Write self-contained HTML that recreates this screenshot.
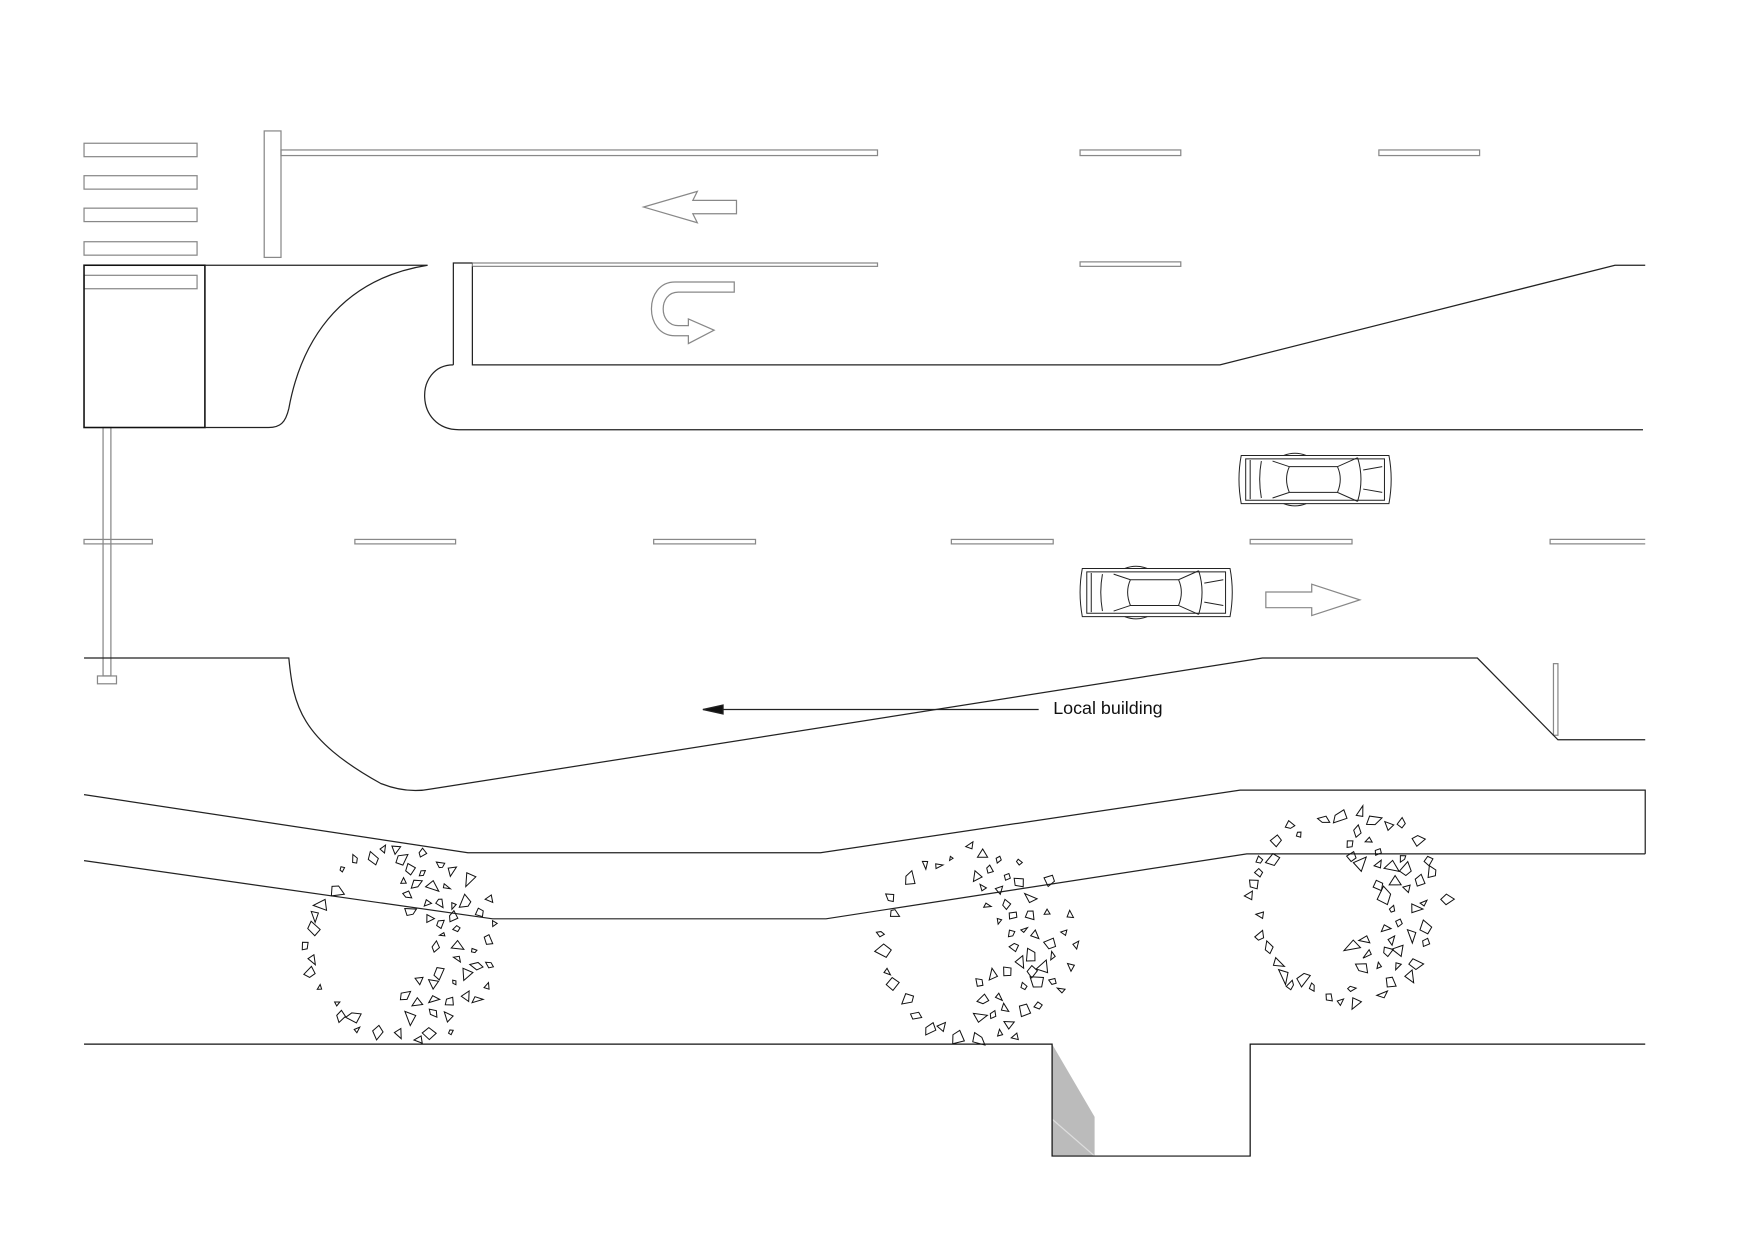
<!DOCTYPE html>
<html><head><meta charset="utf-8"><style>
html,body{margin:0;padding:0;background:#fff;}
svg{display:block;}
</style></head><body>
<svg id="s" width="1755" height="1240" viewBox="0 0 1568 1108" xmlns="http://www.w3.org/2000/svg" fill="none" stroke="#222" stroke-width="1.1">
<g stroke="#888">
<rect x="75" y="128" width="101" height="12"/>
<rect x="75" y="157" width="101" height="12"/>
<rect x="75" y="186" width="101" height="12"/>
<rect x="75" y="216" width="101" height="12"/>
<rect x="75" y="246" width="101" height="12"/>
<rect x="236" y="117" width="15" height="113"/>
<rect x="251" y="134" width="533" height="5"/>
<rect x="965" y="134" width="90" height="5"/>
<rect x="1232" y="134" width="90" height="5"/>
<rect x="422" y="235" width="362" height="3"/>
<rect x="965" y="234" width="90" height="4"/>
<path d="M658,179 L619,179 L623,171 L575,185 L623,199 L619,191 L658,191 Z"/>
<path d="M656,252 L603,252 C575,252 575,300 603,300 L615,300 L615,307 L638,295 L615,285 L615,291 L606,291 C588,291 588,261 606,261 L656,261 Z"/>
<rect x="317" y="482" width="90" height="4"/>
<rect x="584" y="482" width="91" height="4"/>
<rect x="850" y="482" width="91" height="4"/>
<rect x="1117" y="482" width="91" height="4"/>
<path d="M1470,482 L1385,482 L1385,486 L1470,486"/>
<rect x="75" y="482" width="61" height="4"/>
<rect x="92" y="382" width="7" height="222"/>
<rect x="87" y="604" width="17" height="7"/>
<path d="M1131,529 L1172,529 L1172,522 L1215,536 L1172,550 L1172,543 L1131,543 Z"/>
<rect x="1388" y="593" width="4" height="64"/>
</g>
<rect x="75" y="237" width="108" height="145" stroke="#111" stroke-width="1.4"/>
<path d="M183,237 L382,237 C300,250 268,310 258,365 C255,378 250,382 240,382 L183,382"/>
<path d="M405,326 L405,235 L422,235 M422,238 L422,326 L1090,326 L1443,237 L1470,237"/>
<path d="M405,326 C370,326 370,384 410,384 L1468,384"/>
<path d="M75,588 L258,588 C262,630 268,660 340,700 C355,706 370,708 385,705 L1128,588 L1320,588 L1392,661 L1470,661"/>
<path d="M628,634 L928,634"/>
<path d="M628,634 L646,630 L646,638 Z" fill="#111"/>
<text x="941" y="638" font-family="Liberation Sans, sans-serif" font-size="16" fill="#111" stroke="none">Local building</text>
<path d="M75,710 L418,762 L733,762 L1108,706 L1470,706 L1470,763"/>
<path d="M75,769 L440,821 L738,821 L1114,763 L1470,763"/>
<polygon points="940,933 978,998 978,1033 940,1033" fill="#bbb" stroke="none"/>
<path d="M940,1000 L978,1033" stroke="#ddd"/>
<path d="M75,933 L940,933 L940,1033 L1117,1033 L1117,933 L1470,933" stroke="#111"/>
<g id="cars" stroke="#222" stroke-width="0.9"></g>
<g id="rub" stroke="#111" stroke-width="0.9"></g>
</svg>
<script>
var ns="http://www.w3.org/2000/svg";
function car(x,y){
 var g=document.getElementById('cars');
 var d=["M"+(x+2)+","+(y+4)+" L"+(x+134)+","+(y+4)+" Q"+(x+138)+","+(y+25)+" "+(x+134)+","+(y+47)+" L"+(x+2)+","+(y+47)+" Q"+(x-2)+","+(y+25)+" "+(x+2)+","+(y+4)+" Z",
 "M"+(x+6)+","+(y+7)+" L"+(x+130)+","+(y+7)+" L"+(x+130)+","+(y+44)+" L"+(x+6)+","+(y+44)+" Z",
 "M"+(x+10)+","+(y+8)+" L"+(x+10)+","+(y+43)+" M"+(x+20)+","+(y+9)+" Q"+(x+17)+","+(y+25)+" "+(x+20)+","+(y+42)+" M"+(x+30)+","+(y+9)+" L"+(x+45)+","+(y+14)+" L"+(x+88)+","+(y+14)+" L"+(x+106)+","+(y+6)+" M"+(x+30)+","+(y+42)+" L"+(x+45)+","+(y+37)+" L"+(x+88)+","+(y+37)+" L"+(x+106)+","+(y+45)+" M"+(x+45)+","+(y+14)+" Q"+(x+40)+","+(y+25)+" "+(x+45)+","+(y+37)+" M"+(x+88)+","+(y+14)+" Q"+(x+93)+","+(y+25)+" "+(x+88)+","+(y+37)+" M"+(x+106)+","+(y+6)+" Q"+(x+112)+","+(y+25)+" "+(x+106)+","+(y+45)+" M"+(x+111)+","+(y+17)+" L"+(x+128)+","+(y+14)+" M"+(x+111)+","+(y+34)+" L"+(x+128)+","+(y+37)+" M"+(x+40)+","+(y+4)+" Q"+(x+50)+","+(y)+" "+(x+60)+","+(y+4)+" M"+(x+40)+","+(y+47)+" Q"+(x+50)+","+(y+51)+" "+(x+60)+","+(y+47)];
 d.forEach(function(p){var e=document.createElementNS(ns,'path');e.setAttribute('d',p);g.appendChild(e);});
}
car(1107,403);car(965,504);
var seed=11;function r(){seed=(seed*16807)%2147483647;return seed/2147483647;}
function ring(cx,cy,R){
 var g=document.getElementById('rub');
 var placed=[];
 for(var i=0;i<400 && placed.length<85;i++){
  var a=r()*Math.PI*2;
  var right=Math.cos(a);
  if(right<0 && r()<0.6) continue;
  var rad=R*(0.9+r()*0.15);
  if(right>0) rad=R*(0.35+r()*0.7);
  var x=cx+Math.cos(a)*rad,y=cy+Math.sin(a)*rad;
  var ok=true;for(var j=0;j<placed.length;j++){var dx=placed[j][0]-x,dy=placed[j][1]-y;if(dx*dx+dy*dy<110){ok=false;break;}}
  if(!ok) continue;
  placed.push([x,y]);
  var n=3+Math.floor(r()*2),s=3+r()*4,pts=[];
  var b=r()*6;
  for(var k=0;k<n;k++){var t=b+k*Math.PI*2/n+r()*0.6;var l=s*(0.5+r()*0.8);pts.push((x+Math.cos(t)*l).toFixed(1)+","+(y+Math.sin(t)*l).toFixed(1));}
  var p=document.createElementNS(ns,'polygon');p.setAttribute('points',pts.join(' '));g.appendChild(p);
 }
}
ring(360,845,85);ring(872,845,85);ring(1205,808,85);
</script>
</body></html>
